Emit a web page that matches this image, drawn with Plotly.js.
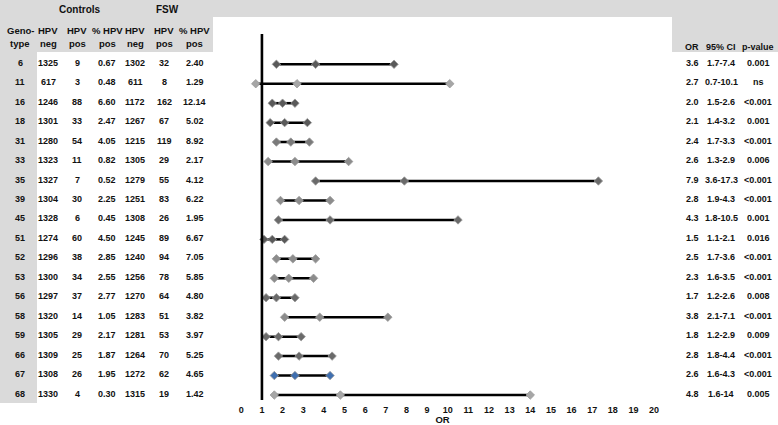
<!DOCTYPE html>
<html>
<head>
<meta charset="utf-8">
<script src="https://cdn.plot.ly/plotly-3.0.1.min.js"></script>
<style>html,body{margin:0;padding:0;background:#fff;}#chart{width:778px;height:425px;}</style>
</head>
<body>
<div id="chart"></div>
<script>
// ---- data ----
const genotypes = ['6','11','16','18','31','33','35','39','45','51','52','53','56','58','59','66','67','68'];
const ctrlNeg = [1325,617,1246,1301,1280,1323,1327,1304,1328,1274,1296,1300,1297,1320,1305,1309,1308,1330];
const ctrlPos = [9,3,88,33,54,11,7,30,6,60,38,34,37,14,29,25,26,4];
const ctrlPct = ['0.67','0.48','6.60','2.47','4.05','0.82','0.52','2.25','0.45','4.50','2.85','2.55','2.77','1.05','2.17','1.87','1.95','0.30'];
const fswNeg = [1302,611,1172,1267,1215,1305,1279,1251,1308,1245,1240,1256,1270,1283,1281,1264,1272,1315];
const fswPos = [32,8,162,67,119,29,55,83,26,89,94,78,64,51,53,70,62,19];
const fswPct = ['2.40','1.29','12.14','5.02','8.92','2.17','4.12','6.22','1.95','6.67','7.05','5.85','4.80','3.82','3.97','5.25','4.65','1.42'];
// odds ratio and the confidence limits as drawn in the plot
const orVal = [3.6,2.7,2.0,2.1,2.4,2.6,7.9,2.8,4.3,1.5,2.5,2.3,1.7,3.8,1.8,2.8,2.6,4.8];
const ciLow = [1.7,0.7,1.5,1.4,1.7,1.3,3.6,1.9,1.8,1.1,1.7,1.6,1.2,2.1,1.2,1.8,1.6,1.6];
const ciHigh = [7.4,10.1,2.6,3.2,3.3,5.2,17.3,4.3,10.5,2.1,3.6,3.5,2.6,7.1,2.9,4.4,4.3,14];
const ciText = ['1.7-7.4','0.7-10.1','1.5-2.6','1.4-3.2','1.7-3.3','1.3-2.9','3.6-17.3','1.9-4.3','1.8-10.5','1.1-2.1','1.7-3.6','1.6-3.5','1.2-2.6','2.1-7.1','1.2-2.9','1.8-4.4','1.6-4.3','1.6-14'];
const pText = ['0.001','ns','&lt;0.001','0.001','&lt;0.001','0.006','&lt;0.001','&lt;0.001','0.001','0.016','&lt;0.001','&lt;0.001','0.008','&lt;0.001','0.009','&lt;0.001','&lt;0.001','0.005'];
const markerColors = ['#5a5a5a','#a6a6a6','#5a5a5a','#5a5a5a','#7a7a7a','#8c8c8c','#6a6a6a','#8c8c8c','#6a6a6a','#5a5a5a','#8c8c8c','#8c8c8c','#6a6a6a','#8c8c8c','#6a6a6a','#6a6a6a','#3f6fb0','#a6a6a6'];
const xTicks = [0,1,2,3,4,5,6,7,8,9,10,11,12,13,14,15,16,17,18,19,20];

// ---- geometry helpers (figure pixels -> paper) ----
const W = 778, H = 425;
const px = v => v / W;
const py = v => 1 - v / H;
const FONT = '"Liberation Sans Narrow", "Liberation Sans", Arial, sans-serif';
const GRAY = '#dadada';

// ---- build traces ----
const lineX = [], lineY = [];
const mX = [], mY = [], mC = [];
genotypes.forEach((g, i) => {
  lineX.push(ciLow[i], orVal[i], ciHigh[i], null);
  lineY.push(i, i, i, null);
  [ciLow[i], orVal[i], ciHigh[i]].forEach(v => { mX.push(v); mY.push(i); mC.push(markerColors[i]); });
});

const traces = [
  { type: 'scatter', mode: 'lines', x: lineX, y: lineY,
    line: { color: '#000', width: 2.5 }, hoverinfo: 'skip', showlegend: false },
  { type: 'scatter', mode: 'markers', x: mX, y: mY,
    marker: { symbol: 'diamond', size: 6.5, color: mC, line: { color: '#9a9a9a', width: 0.8 } },
    showlegend: false }
];

// ---- annotations (table text) ----
const ann = [];
const txt = (text, x, yval, yref, size, extra) => Object.assign({
  text: text, x: x, y: yval, xref: 'paper', yref: yref, showarrow: false,
  xanchor: 'center', yanchor: 'middle',
  font: { family: FONT, size: size, color: '#111', weight: 'bold' }
}, extra || {});

// header
ann.push(txt('<b>Controls</b>', px(80), py(9.5), 'paper', 10));
ann.push(txt('<b>FSW</b>', px(167), py(9.5), 'paper', 10));
const hdrCols = [[20,'Geno-','type'],[48,'HPV','neg'],[77,'HPV','pos'],[107,'% HPV','pos'],[135,'HPV','neg'],[164,'HPV','pos'],[195,'% HPV','pos']];
hdrCols.forEach(c => {
  ann.push(txt('<b>' + c[1] + '</b>', px(c[0]), py(30.5), 'paper', 9.5));
  ann.push(txt('<b>' + c[2] + '</b>', px(c[0]), py(43.5), 'paper', 9.5));
});
ann.push(txt('<b>OR</b>', px(692), py(47), 'paper', 9));
ann.push(txt('<b>95% CI</b>', px(721), py(47), 'paper', 9));
ann.push(txt('<b>p-value</b>', px(758), py(47), 'paper', 9));

const leftCols = [
  [20, genotypes], [48, ctrlNeg], [77, ctrlPos], [107, ctrlPct],
  [135, fswNeg], [164, fswPos], [195, fswPct],
  [692, orVal.map(v => v.toFixed(1))], [721, ciText], [758, pText]
];
leftCols.forEach(c => {
  c[1].forEach((v, i) => {
    ann.push(txt('<b>' + v + '</b>', px(c[0]), i, 'y', 9, { yshift: 1.5 }));
  });
});

// ---- shapes: gray header blocks + reference line ----
const rect = (x0, y0, x1, y1) => ({ type: 'rect', xref: 'paper', yref: 'paper',
  x0: px(x0), x1: px(x1), y0: py(y1), y1: py(y0), fillcolor: GRAY, line: { width: 0 }, layer: 'below' });
const shapes = [
  rect(0, 0, 778, 17),
  rect(0, 0, 213, 52),
  rect(0, 0, 37, 403),
  rect(672, 0, 778, 52),
  { type: 'line', xref: 'x', yref: 'y', x0: 1, x1: 1, y0: -1.56, y1: 17.26,
    line: { color: '#000', width: 2.6 } }
];

const layout = {
  width: W, height: H,
  margin: { l: 0, r: 0, t: 0, b: 0, pad: 0 },
  paper_bgcolor: '#fff', plot_bgcolor: '#fff',
  showlegend: false,
  xaxis: {
    domain: [px(213), px(672)],
    range: [-1.371, 20.867],
    tickvals: xTicks, ticktext: xTicks.map(String),
    showgrid: false, zeroline: false, showline: false, ticks: '',
    tickfont: { family: FONT, size: 9, color: '#111', weight: 'bold' },
    title: { text: '<b>OR</b>', font: { family: FONT, size: 9.5, color: '#111' }, standoff: 0 },
    automargin: false, fixedrange: true
  },
  yaxis: {
    domain: [py(403), py(17)],
    range: [17.41, -2.43],
    showgrid: false, zeroline: false, showline: false, showticklabels: false, ticks: '',
    automargin: false, fixedrange: true
  },
  shapes: shapes,
  annotations: ann
};

Plotly.newPlot('chart', traces, layout, { staticPlot: true, displayModeBar: false });
</script>
</body>
</html>
